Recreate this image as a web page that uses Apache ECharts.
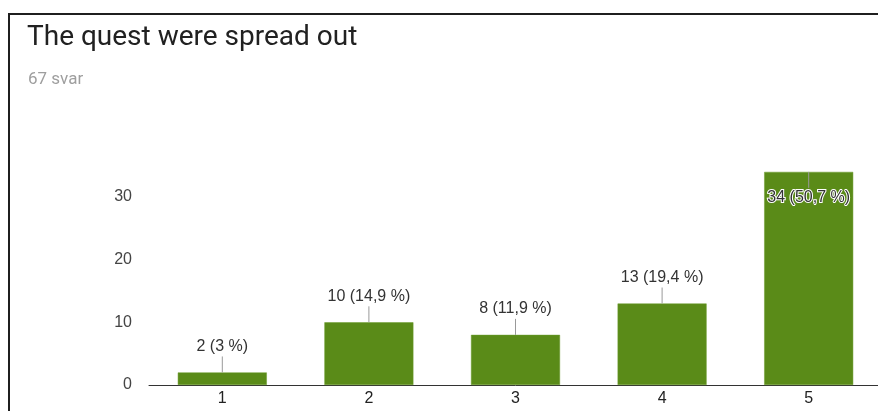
<!DOCTYPE html>
<html>
<head>
<meta charset="utf-8">
<script src="https://cdn.jsdelivr.net/npm/echarts@6/dist/echarts.min.js"></script>
<style>
  html, body { margin: 0; padding: 0; background: #fff; overflow: hidden; }
  #chart { width: 900px; height: 411px; }
</style>
</head>
<body>
<div id="chart"></div>
<script>
const categories = ['1', '2', '3', '4', '5']
const counts = [2, 10, 8, 13, 34]
const percents = [3, 14.9, 11.9, 19.4, 50.7]
const yTicks = [0, 10, 20, 30]

const chart = echarts.init(document.getElementById('chart'))

function pctText(i) {
  return `${counts[i]} (${String(percents[i]).replace('.', ',')} %)`
}

chart.setOption({
  animation: false,
  title: [
    {
      text: 'The quest were spread out',
      left: 22,
      top: 19,
      textStyle: { fontFamily: 'Roboto', fontSize: 28, fontWeight: 'normal', color: '#212121' },
    },
    {
      text: '67 svar',
      left: 23,
      top: 66,
      textStyle: { fontFamily: 'Roboto', fontSize: 17, fontWeight: 'normal', color: '#9e9e9e' },
    },
  ],
  graphic: [{
    type: 'rect',
    shape: { x: 9, y: 14, width: 900, height: 420 },
    style: { fill: 'none', stroke: '#1f1f1f', lineWidth: 2 },
    silent: true,
  }],
  grid: { left: 149, top: 134.3, width: 733, bottom: 26 },
  xAxis: {
    type: 'category',
    data: categories,
    axisTick: { show: false },
    axisLine: { lineStyle: { color: '#333', width: 1 } },
    axisLabel: { color: '#222', fontFamily: 'Arial', fontSize: 16, margin: 6 },
  },
  yAxis: {
    type: 'value',
    min: 0,
    max: 40,
    interval: 10,
    splitLine: { show: false },
    axisLine: { show: false },
    axisTick: { show: false },
    axisLabel: {
      color: '#444',
      fontFamily: 'Arial',
      fontSize: 16,
      margin: 17,
      formatter: (v) => (yTicks.includes(v) ? String(v) : ''),
    },
  },
  series: [
    {
      type: 'bar',
      data: counts,
      barWidth: 89,
      itemStyle: { color: '#5a8b18', borderColor: '#6a9a2c', borderWidth: 0.5 },
    },
    {
      type: 'custom',
      data: counts.map((c, i) => [i, c]),
      z: 5,
      renderItem(params, api) {
        const i = api.value(0)
        const p = api.coord([i, api.value(1)])
        const inside = p[1] < 200
        const dir = inside ? 1 : -1
        const stemEnd = p[1] + dir * 16
        return {
          type: 'group',
          children: [
            {
              type: 'line',
              shape: { x1: p[0], y1: p[1], x2: p[0], y2: stemEnd },
              style: { stroke: '#999', lineWidth: 1 },
            },
            {
              type: 'text',
              x: p[0],
              y: stemEnd + dir * 2,
              style: {
                text: pctText(i),
                fill: '#333',
                font: '16px Arial',
                align: 'center',
                verticalAlign: inside ? 'top' : 'bottom',
                stroke: inside ? '#fff' : null,
                lineWidth: inside ? 2 : 0,
              },
            },
          ],
        }
      },
    },
  ],
})
</script>
</body>
</html>
